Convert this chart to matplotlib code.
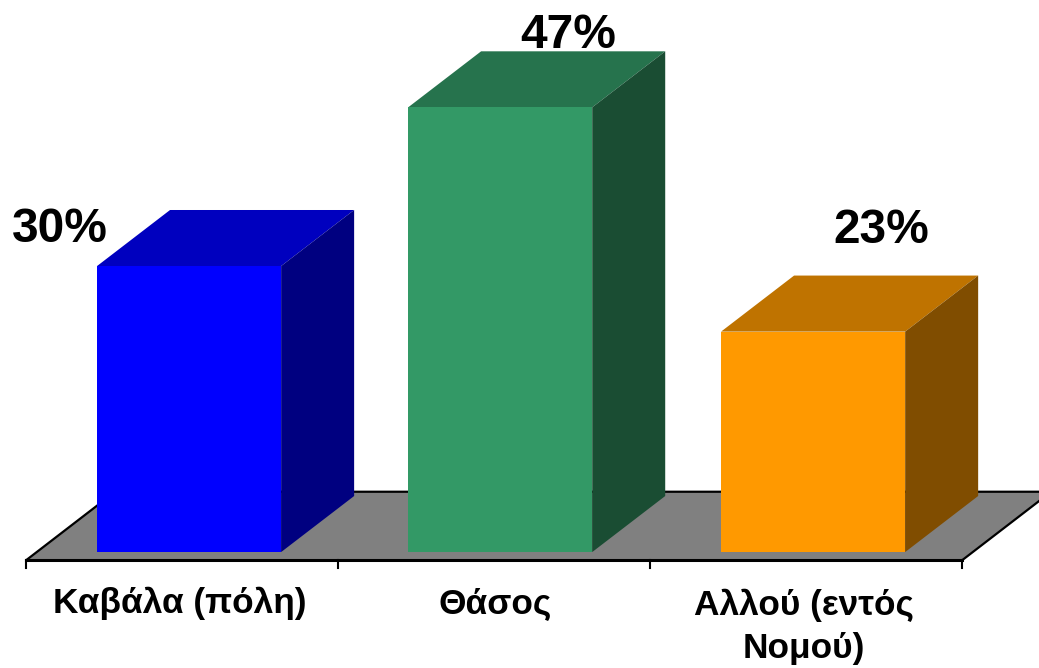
from matplotlib import pyplot as plt
from matplotlib.patches import Polygon

categories = ['Καβάλα (πόλη)', 'Θάσος', 'Αλλού (εντός\nΝομού)']
values = [30.1, 46.8, 23.2]
labels = ['30%', '47%', '23%']
front_colors = ['#0000ff', '#339966', '#ff9900']
top_colors = ['#0000bf', '#26734d', '#bf7300']
side_colors = ['#000080', '#1a4d33', '#804d00']

plt.rcParams['font.family'] = ['Liberation Sans', 'DejaVu Sans']

fig = plt.figure(figsize=(10.39, 6.68), dpi=100)
ax = fig.add_axes([0, 0, 1, 1])
ax.set_xlim(-0.606, 2.724)
ax.set_ylim(-12.2, 58.1)
ax.axis('off')

x_pos = [0, 0.997, 2]
width = 0.59
dx = 0.234   # depth of the fake 3d
dy = 5.9
base = -0.85  # front edge of the floor
left = -0.522

# floor
ax.add_patch(Polygon([(left, base), (left + 3, base), (left + 3 + 0.285, base + 7.2),
                      (left + 0.285, base + 7.2)],
                     facecolor='#808080', edgecolor='black', lw=1.6, zorder=1))
ax.plot([left, left + 3], [base, base], color='black', lw=2.2, zorder=1)
for i in range(4):
    ax.plot([left + i, left + i], [base, base - 0.85], color='black', lw=1.5, zorder=1)

for i, v in enumerate(values):
    l = x_pos[i] - width / 2
    r = x_pos[i] + width / 2
    ax.bar(x_pos[i], v, width=width, color=front_colors[i], zorder=3)
    ax.add_patch(Polygon([(l, v), (r, v), (r + dx, v + dy), (l + dx, v + dy)],
                         facecolor=top_colors[i], edgecolor='none', zorder=2))
    ax.add_patch(Polygon([(r, 0), (r + dx, dy), (r + dx, v + dy), (r, v)],
                         facecolor=side_colors[i], edgecolor='none', zorder=2))

# value labels sit at different offsets in the original
label_x = [-0.414, 1.214, 2.218]
label_y = [33.9, 54.4, 33.8]
for i, t in enumerate(labels):
    ax.text(label_x[i], label_y[i], t, fontsize=34.5, fontweight='bold', ha='center', va='center', zorder=5)

ax.text(-0.03, -5.4, categories[0], fontsize=25.4, fontweight='bold', ha='center', va='center')
ax.text(0.98, -5.4, categories[1], fontsize=25.4, fontweight='bold', ha='center', va='center')
ax.text(1.97, -7.9, categories[2], fontsize=25.4, fontweight='bold', ha='center', va='center', linespacing=1.38)

fig.savefig('out.png', dpi=100)
